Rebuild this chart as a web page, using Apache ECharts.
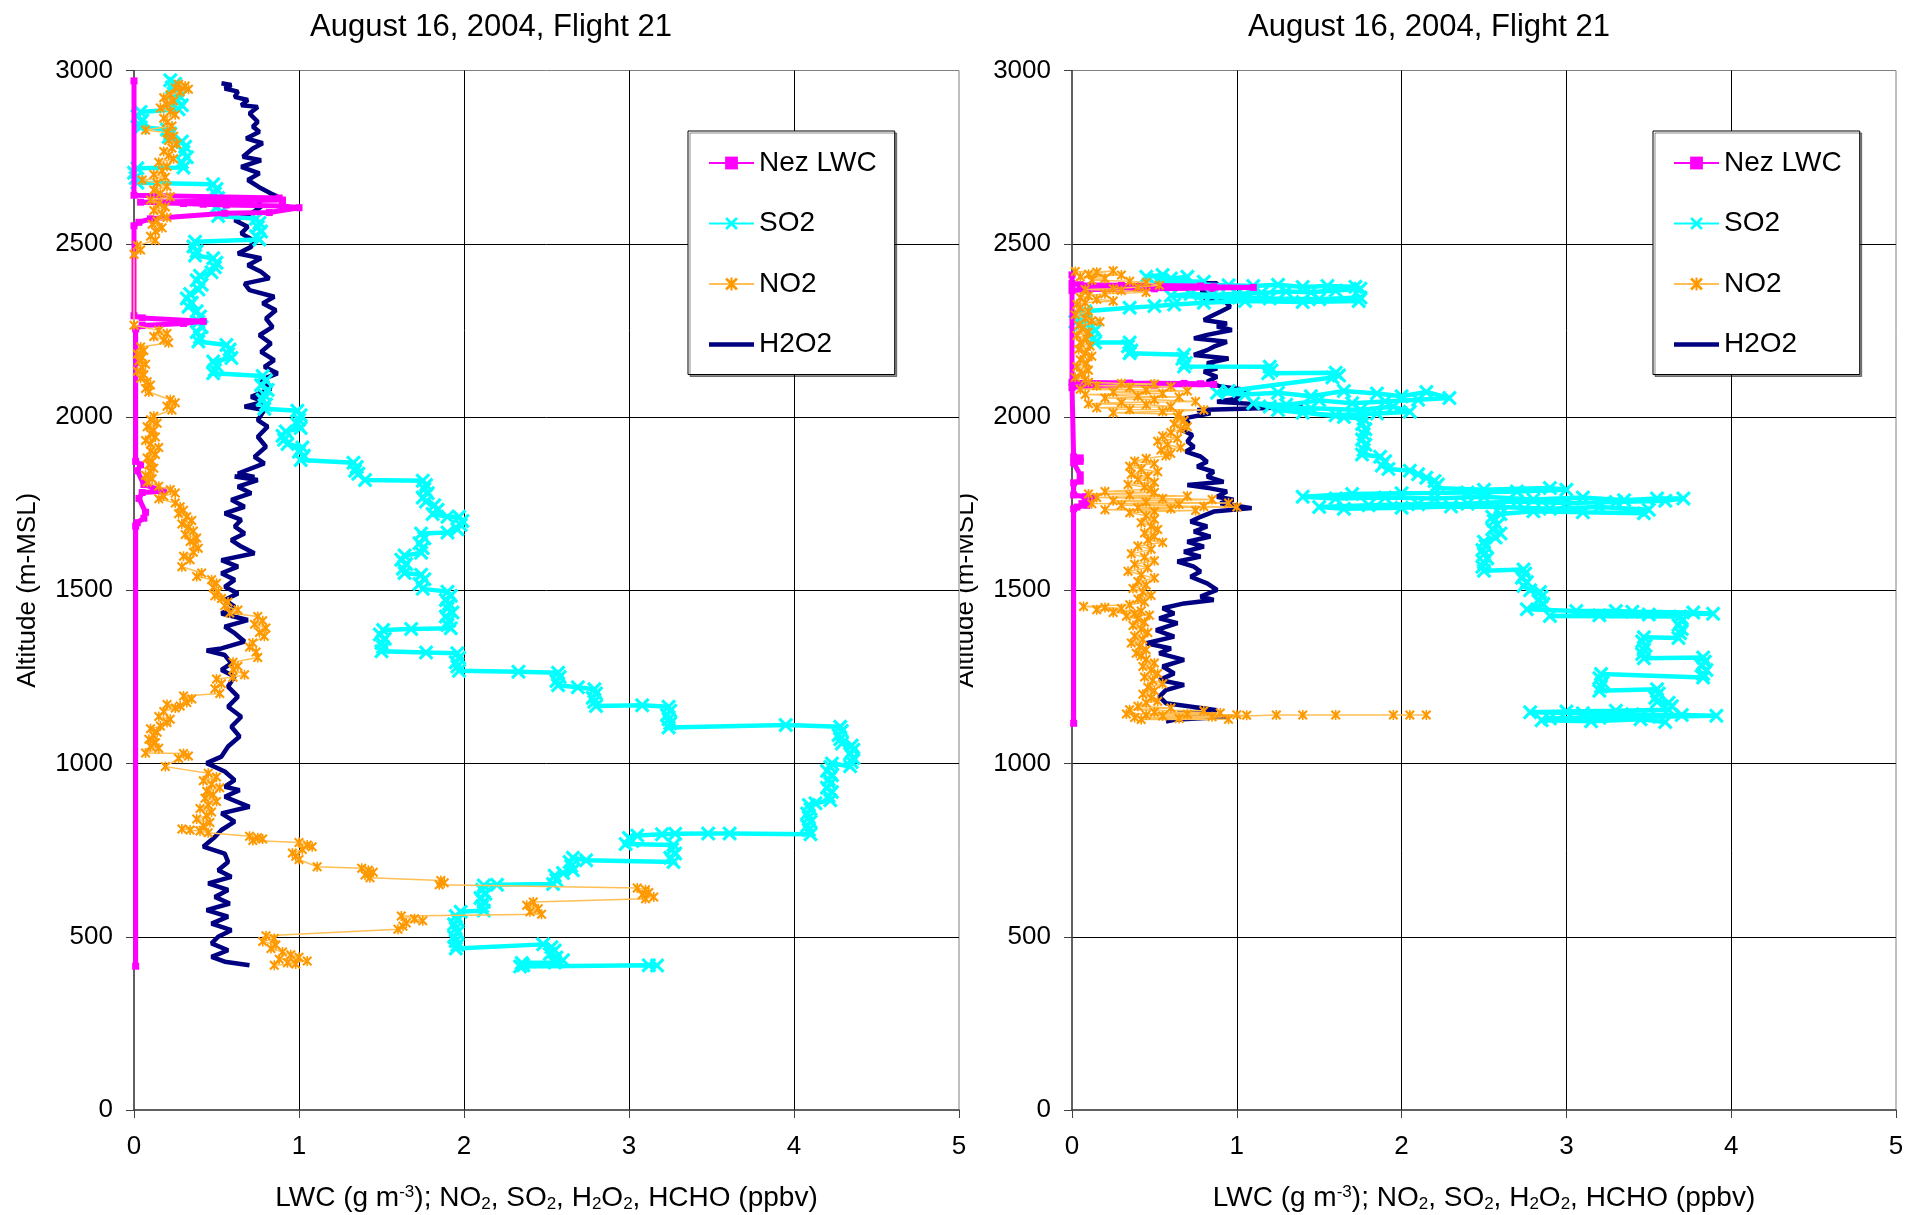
<!DOCTYPE html>
<html>
<head>
<meta charset="utf-8">
<title>August 16, 2004, Flight 21</title>
<script src="https://cdn.jsdelivr.net/npm/echarts@6/dist/echarts.min.js"></script>
<style>
  html, body { margin: 0; padding: 0; background: #ffffff; }
  #profileA { position: absolute; left: 0; top: 0; width: 1907px; height: 1215px; }
  #profileB { position: absolute; left: 960px; top: 0; width: 947px; height: 1215px; overflow: hidden; }
</style>
</head>
<body>
<div id="profileA"></div>
<div id="profileB"></div>
<script>
// ---- axis ticks ----
const X_TICKS = [0, 1, 2, 3, 4, 5];
const Y_TICKS = [0, 500, 1000, 1500, 2000, 2500, 3000];
const SERIES_NAMES = ['Nez LWC', 'SO2', 'NO2', 'H2O2'];

// ---- first profile: [value, altitude m-MSL] ----
const leftNezLwc = [[0,2970],[0,2640],[0.88,2632],[0.9,2626],[0.04,2620],[0.3,2616],[0.42,2614],[0.56,2612],[0.9,2609],[1.0,2604],[0.82,2590],[0.55,2588],[0.1,2572],[0.03,2562],[0,2552],[0,2292],[0.05,2286],[0.42,2276],[0.3,2270],[0.05,2264],[0.01,2254],[0.01,1872],[0.04,1862],[0.02,1845],[0.06,1805],[0.18,1786],[0.05,1782],[0.03,1765],[0.07,1725],[0.06,1708],[0.02,1695],[0.01,1685],[0.01,415]];

const leftSo2 = [[0.22,2972],[0.25,2962],[0.23,2952],[0.26,2942],[0.24,2934],[0.28,2924],[0.26,2912],[0.29,2900],[0.27,2888],[0.04,2880],[0.02,2868],[0.05,2856],[0.03,2845],[0.04,2836],[0.2,2830],[0.22,2818],[0.21,2808],[0.29,2795],[0.31,2780],[0.3,2765],[0.32,2750],[0.29,2735],[0.3,2720],[0.02,2718],[0.0,2705],[0.01,2690],[0.02,2676],[0.48,2672],[0.5,2658],[0.49,2645],[0.51,2632],[0.52,2618],[0.5,2605],[0.53,2592],[0.51,2580],[0.74,2572],[0.76,2560],[0.75,2548],[0.77,2535],[0.74,2522],[0.76,2512],[0.37,2506],[0.36,2492],[0.38,2478],[0.37,2466],[0.48,2458],[0.5,2445],[0.49,2432],[0.47,2418],[0.4,2408],[0.38,2395],[0.41,2382],[0.39,2368],[0.34,2355],[0.32,2342],[0.35,2330],[0.33,2318],[0.38,2305],[0.4,2290],[0.39,2275],[0.41,2260],[0.38,2245],[0.4,2230],[0.39,2218],[0.56,2208],[0.58,2195],[0.57,2182],[0.59,2170],[0.48,2160],[0.5,2148],[0.49,2136],[0.48,2126],[0.78,2118],[0.8,2105],[0.77,2092],[0.81,2078],[0.79,2064],[0.78,2050],[0.8,2036],[0.79,2024],[0.99,2018],[1.01,2005],[1.0,1992],[0.99,1980],[1.01,1968],[0.92,1958],[0.9,1946],[0.91,1934],[0.93,1922],[1.02,1912],[1.0,1900],[1.03,1888],[1.01,1876],[1.33,1868],[1.35,1856],[1.34,1845],[1.36,1836],[1.4,1818],[1.75,1816],[1.77,1804],[1.76,1792],[1.78,1780],[1.75,1768],[1.77,1756],[1.82,1745],[1.84,1732],[1.81,1720],[1.9,1712],[1.97,1712],[1.99,1700],[1.98,1688],[1.96,1676],[1.9,1667],[1.74,1664],[1.76,1650],[1.73,1636],[1.75,1622],[1.74,1608],[1.64,1600],[1.62,1588],[1.65,1576],[1.63,1562],[1.64,1550],[1.74,1545],[1.76,1532],[1.73,1518],[1.75,1504],[1.9,1496],[1.92,1484],[1.89,1472],[1.91,1460],[1.9,1448],[1.93,1436],[1.89,1424],[1.91,1412],[1.9,1400],[1.92,1390],[1.68,1388],[1.51,1385],[1.49,1372],[1.52,1360],[1.5,1348],[1.51,1336],[1.5,1324],[1.77,1320],[1.96,1318],[1.97,1305],[1.95,1292],[1.96,1280],[1.97,1268],[2.33,1265],[2.57,1262],[2.58,1250],[2.56,1238],[2.57,1226],[2.69,1220],[2.79,1214],[2.8,1202],[2.78,1190],[2.79,1178],[2.8,1166],[3.08,1168],[3.24,1164],[3.25,1152],[3.23,1140],[3.24,1128],[3.25,1116],[3.24,1104],[3.95,1111],[4.28,1106],[4.29,1094],[4.27,1082],[4.28,1070],[4.29,1058],[4.35,1052],[4.36,1040],[4.34,1028],[4.36,1016],[4.35,1004],[4.34,992],[4.23,1000],[4.22,990],[4.2,978],[4.23,966],[4.21,954],[4.22,942],[4.2,930],[4.23,918],[4.21,906],[4.22,894],[4.13,885],[4.09,880],[4.1,868],[4.08,856],[4.09,844],[4.1,832],[4.08,820],[4.09,808],[4.1,796],[3.61,798],[3.48,798],[3.28,797],[3.2,796],[3.05,792],[3.0,785],[3.02,776],[2.98,768],[3.27,765],[3.26,752],[3.28,740],[3.25,728],[3.27,716],[2.74,721],[2.66,728],[2.64,716],[2.65,704],[2.66,692],[2.6,684],[2.55,676],[2.56,664],[2.54,652],[2.2,650],[2.12,648],[2.11,636],[2.13,624],[2.1,612],[2.12,600],[2.11,588],[2.12,576],[1.98,572],[1.95,560],[1.96,548],[1.94,536],[1.95,524],[1.96,512],[1.94,500],[1.95,488],[1.96,476],[1.95,466],[2.48,478],[2.53,470],[2.55,460],[2.52,450],[2.56,440],[2.6,432],[2.55,426],[2.35,424],[2.36,418],[2.34,414],[3.12,418],[3.17,417]];

const leftNo2 = [[0.27,2960],[0.31,2955],[0.25,2950],[0.33,2946],[0.28,2938],[0.22,2930],[0.18,2921],[0.24,2912],[0.2,2902],[0.16,2892],[0.22,2882],[0.25,2872],[0.18,2862],[0.2,2851],[0.23,2840],[0.07,2828],[0.2,2820],[0.24,2810],[0.21,2798],[0.26,2788],[0.23,2776],[0.18,2766],[0.21,2755],[0.24,2745],[0.15,2735],[0.2,2723],[0.17,2711],[0.12,2700],[0.19,2692],[0.05,2684],[0.14,2675],[0.2,2665],[0.12,2655],[0.16,2645],[0.22,2636],[0.1,2626],[0.15,2616],[0.19,2606],[0.12,2596],[0.17,2586],[0.2,2576],[0.14,2566],[0.11,2556],[0.17,2546],[0.13,2536],[0.1,2522],[0.13,2510],[0.02,2495],[0.04,2482],[0.0,2470],[0.0,2265],[0.15,2250],[0.2,2241],[0.12,2232],[0.18,2222],[0.21,2214],[0.04,2202],[0.06,2192],[0.02,2182],[0.05,2172],[0.03,2162],[0.07,2152],[0.05,2142],[0.02,2132],[0.06,2122],[0.04,2112],[0.08,2102],[0.1,2092],[0.07,2082],[0.09,2072],[0.22,2050],[0.25,2041],[0.2,2031],[0.23,2020],[0.12,2002],[0.1,1992],[0.14,1982],[0.08,1972],[0.12,1962],[0.1,1952],[0.13,1942],[0.07,1932],[0.1,1922],[0.15,1912],[0.1,1902],[0.13,1892],[0.08,1882],[0.11,1872],[0.09,1862],[0.12,1852],[0.1,1842],[0.07,1832],[0.11,1822],[0.08,1812],[0.15,1800],[0.22,1790],[0.25,1781],[0.18,1772],[0.15,1764],[0.25,1752],[0.28,1741],[0.3,1731],[0.27,1721],[0.32,1712],[0.35,1701],[0.29,1691],[0.33,1681],[0.36,1671],[0.31,1661],[0.38,1651],[0.34,1641],[0.37,1631],[0.39,1621],[0.36,1610],[0.3,1598],[0.34,1588],[0.29,1568],[0.41,1550],[0.38,1540],[0.47,1530],[0.5,1520],[0.48,1508],[0.51,1496],[0.49,1484],[0.53,1476],[0.57,1466],[0.55,1455],[0.63,1443],[0.58,1434],[0.75,1424],[0.78,1412],[0.73,1402],[0.8,1391],[0.76,1378],[0.79,1367],[0.72,1348],[0.7,1336],[0.74,1322],[0.75,1306],[0.6,1292],[0.63,1281],[0.6,1271],[0.67,1256],[0.6,1249],[0.5,1244],[0.53,1230],[0.49,1216],[0.52,1202],[0.3,1195],[0.35,1186],[0.32,1176],[0.28,1166],[0.2,1170],[0.25,1160],[0.18,1150],[0.15,1136],[0.22,1128],[0.2,1118],[0.16,1108],[0.1,1100],[0.14,1090],[0.12,1080],[0.09,1070],[0.13,1060],[0.1,1050],[0.15,1044],[0.07,1030],[0.3,1029],[0.33,1022],[0.27,1015],[0.19,991],[0.45,972],[0.5,961],[0.42,950],[0.47,940],[0.52,930],[0.44,920],[0.48,910],[0.43,900],[0.5,890],[0.45,880],[0.4,870],[0.47,860],[0.44,850],[0.38,840],[0.46,830],[0.42,820],[0.29,811],[0.34,808],[0.4,805],[0.45,800],[0.7,790],[0.75,786],[0.78,782],[0.72,778],[1.0,772],[1.05,765],[1.08,760],[1.02,752],[0.96,742],[0.98,732],[1.0,723],[1.11,702],[1.38,698],[1.42,692],[1.45,686],[1.4,678],[1.43,670],[1.86,662],[1.88,656],[1.85,650],[3.05,641],[3.1,636],[3.12,628],[3.08,621],[3.15,615],[3.1,610],[2.42,600],[2.38,591],[2.45,581],[2.4,572],[2.47,565],[1.62,560],[1.7,552],[1.75,546],[1.65,540],[1.63,530],[1.6,522],[0.8,503],[0.85,495],[0.78,486],[0.86,476],[0.83,466],[0.9,456],[0.95,448],[1.0,441],[0.88,435],[1.05,430],[0.93,425],[0.98,421],[0.85,418]];

const leftH2o2 = [[0.53,2963],[0.59,2958],[0.55,2948],[0.63,2939],[0.61,2924],[0.69,2915],[0.65,2900],[0.75,2895],[0.7,2876],[0.75,2852],[0.72,2838],[0.76,2823],[0.68,2804],[0.78,2790],[0.72,2775],[0.66,2751],[0.77,2741],[0.65,2722],[0.76,2703],[0.69,2684],[0.77,2660],[0.83,2645],[0.87,2636],[0.75,2626],[0.77,2607],[0.71,2587],[0.61,2568],[0.69,2549],[0.65,2530],[0.72,2511],[0.71,2491],[0.63,2472],[0.77,2458],[0.69,2438],[0.77,2419],[0.82,2400],[0.67,2385],[0.7,2366],[0.85,2347],[0.78,2328],[0.86,2308],[0.8,2284],[0.84,2260],[0.76,2236],[0.83,2212],[0.77,2188],[0.85,2164],[0.79,2145],[0.87,2126],[0.77,2107],[0.83,2082],[0.71,2058],[0.79,2044],[0.67,2030],[0.79,2020],[0.75,1991],[0.81,1972],[0.75,1943],[0.8,1914],[0.73,1885],[0.79,1866],[0.63,1837],[0.73,1827],[0.61,1828],[0.75,1818],[0.63,1799],[0.71,1780],[0.59,1761],[0.67,1741],[0.55,1722],[0.65,1703],[0.61,1684],[0.67,1664],[0.59,1645],[0.65,1626],[0.73,1607],[0.53,1587],[0.63,1568],[0.53,1549],[0.61,1530],[0.55,1510],[0.63,1491],[0.55,1472],[0.61,1453],[0.53,1433],[0.69,1414],[0.55,1395],[0.61,1376],[0.67,1352],[0.53,1332],[0.44,1326],[0.55,1313],[0.59,1289],[0.53,1270],[0.61,1251],[0.57,1222],[0.63,1193],[0.57,1164],[0.65,1135],[0.59,1106],[0.64,1078],[0.57,1049],[0.53,1020],[0.44,1001],[0.55,977],[0.61,952],[0.55,933],[0.64,923],[0.55,904],[0.7,875],[0.53,856],[0.61,832],[0.53,808],[0.49,788],[0.42,760],[0.55,740],[0.57,716],[0.51,692],[0.59,673],[0.45,654],[0.57,635],[0.49,615],[0.58,596],[0.44,577],[0.57,558],[0.47,538],[0.59,519],[0.51,500],[0.47,481],[0.57,461],[0.47,442],[0.55,428],[0.7,418]];

// ---- second profile: [value, altitude m-MSL] ----
const rightNezLwc = [[0,2410],[0,2385],[0.05,2382],[0.3,2380],[0.78,2378],[0.86,2376],[1.1,2374],[0.85,2372],[0.5,2370],[0.1,2368],[0,2365],[0,2100],[0.35,2098],[0.68,2097],[0.78,2096],[0.86,2094],[0.5,2092],[0.1,2090],[0,2085],[0.01,1885],[0.05,1882],[0.05,1872],[0.01,1868],[0.05,1833],[0.05,1815],[0.01,1810],[0.01,1775],[0.08,1770],[0.12,1765],[0.1,1758],[0.06,1750],[0.09,1745],[0.03,1740],[0.01,1735],[0.01,1116]];

const rightSo2 = [[0.45,2405],[0.55,2410],[0.6,2400],[0.52,2395],[0.7,2405],[0.65,2392],[0.8,2390],[0.5,2385],[0.95,2380],[1.1,2378],[1.25,2382],[1.4,2375],[1.55,2378],[1.72,2376],[1.75,2370],[1.6,2365],[1.45,2360],[1.3,2362],[1.15,2358],[1.0,2356],[0.85,2352],[0.72,2355],[0.6,2350],[0.95,2345],[1.2,2342],[1.5,2340],[1.75,2345],[1.74,2335],[1.4,2332],[1.05,2335],[0.8,2330],[0.62,2325],[0.5,2320],[0.35,2315],[0.08,2305],[0.03,2295],[0.06,2285],[0.02,2275],[0.05,2268],[0.12,2262],[0.14,2250],[0.11,2238],[0.13,2226],[0.14,2215],[0.35,2215],[0.34,2204],[0.36,2192],[0.35,2184],[0.68,2180],[0.67,2168],[0.69,2156],[0.68,2146],[1.2,2145],[1.21,2134],[1.19,2126],[1.6,2128],[1.62,2120],[1.58,2114],[0.95,2075],[0.88,2070],[1.05,2065],[1.25,2070],[1.45,2060],[1.65,2075],[1.85,2068],[2.0,2060],[2.15,2072],[2.29,2055],[2.1,2050],[1.9,2045],[1.7,2040],[1.5,2048],[1.3,2035],[1.1,2040],[1.2,2030],[1.45,2025],[1.75,2020],[1.95,2030],[2.05,2015],[1.85,2010],[1.6,2005],[1.4,2012],[1.25,2020],[1.65,2000],[1.77,1995],[1.76,1980],[1.78,1965],[1.77,1950],[1.76,1935],[1.78,1920],[1.77,1905],[1.76,1892],[1.87,1885],[1.9,1872],[1.88,1860],[1.92,1850],[2.05,1845],[2.1,1835],[2.15,1825],[2.2,1815],[2.22,1805],[2.2,1795],[2.5,1790],[2.9,1795],[3.0,1790],[2.7,1785],[2.4,1782],[2.0,1780],[1.7,1778],[1.4,1770],[1.6,1765],[1.9,1768],[2.2,1765],[2.5,1770],[2.8,1762],[3.1,1768],[3.35,1760],[3.55,1765],[3.71,1765],[3.6,1758],[3.3,1755],[3.0,1752],[2.7,1756],[2.4,1750],[2.1,1748],[1.8,1745],[1.5,1740],[1.65,1735],[2.0,1738],[2.3,1742],[2.6,1740],[2.9,1735],[3.2,1740],[3.5,1732],[3.47,1722],[3.1,1725],[2.8,1728],[2.6,1720],[2.55,1712],[2.56,1700],[2.58,1688],[2.55,1676],[2.6,1664],[2.57,1652],[2.5,1640],[2.51,1628],[2.49,1616],[2.5,1604],[2.52,1592],[2.5,1580],[2.49,1568],[2.5,1556],[2.74,1560],[2.75,1548],[2.73,1536],[2.76,1524],[2.74,1512],[2.78,1500],[2.84,1495],[2.85,1482],[2.83,1470],[2.86,1460],[2.76,1445],[3.06,1440],[3.3,1440],[3.4,1438],[3.77,1436],[3.89,1432],[3.5,1430],[3.2,1428],[2.9,1426],[3.69,1424],[3.7,1412],[3.68,1400],[3.7,1388],[3.69,1376],[3.68,1362],[3.47,1364],[3.46,1352],[3.48,1340],[3.47,1328],[3.46,1316],[3.47,1304],[3.83,1306],[3.84,1294],[3.82,1282],[3.85,1270],[3.83,1258],[3.83,1248],[3.21,1258],[3.2,1246],[3.22,1234],[3.21,1222],[3.2,1210],[3.55,1214],[3.56,1202],[3.54,1190],[3.55,1178],[3.62,1175],[3.64,1165],[3.62,1155],[3.3,1152],[3.0,1150],[2.78,1148],[3.1,1145],[3.4,1142],[3.7,1140],[3.91,1138],[3.5,1135],[3.2,1132],[2.9,1130],[2.85,1125],[3.15,1122],[3.45,1128],[3.6,1120]];

const rightNo2 = [[0.02,2420],[0.15,2418],[0.25,2422],[0.1,2412],[0.3,2410],[0.05,2405],[0.2,2400],[0.12,2395],[0.35,2392],[0.45,2388],[0.53,2380],[0.4,2375],[0.25,2370],[0.08,2368],[0.3,2365],[0.45,2360],[0.2,2356],[0.1,2350],[0.05,2345],[0.15,2340],[0.25,2335],[0.08,2330],[0.03,2325],[0.05,2315],[0.1,2305],[0.02,2295],[0.08,2285],[0.12,2278],[0.17,2275],[0.04,2265],[0.06,2255],[0.1,2245],[0.03,2235],[0.09,2225],[0.05,2215],[0.11,2205],[0.04,2195],[0.08,2185],[0.12,2175],[0.05,2165],[0.09,2155],[0.03,2145],[0.1,2135],[0.06,2125],[0.02,2115],[0.08,2108],[0.1,2100],[0.3,2097],[0.5,2095],[0.15,2090],[0.6,2088],[0.35,2085],[0.05,2080],[0.45,2078],[0.7,2075],[0.25,2072],[0.55,2068],[0.08,2065],[0.4,2060],[0.65,2058],[0.2,2055],[0.5,2050],[0.75,2045],[0.3,2042],[0.1,2038],[0.45,2035],[0.6,2030],[0.15,2027],[0.35,2022],[0.8,2020],[0.55,2016],[0.25,2012],[0.65,2008],[0.64,2000],[0.68,1990],[0.62,1980],[0.7,1972],[0.66,1965],[0.6,1955],[0.55,1945],[0.64,1938],[0.52,1930],[0.58,1920],[0.66,1912],[0.54,1905],[0.6,1895],[0.57,1888],[0.45,1880],[0.38,1872],[0.5,1865],[0.35,1858],[0.42,1850],[0.52,1842],[0.36,1835],[0.46,1828],[0.4,1820],[0.5,1812],[0.34,1805],[0.44,1798],[0.48,1792],[0.2,1785],[0.5,1782],[0.1,1778],[0.35,1775],[0.7,1772],[0.15,1768],[0.55,1765],[0.85,1762],[0.25,1758],[0.45,1755],[0.95,1752],[0.12,1750],[0.65,1748],[0.3,1745],[0.8,1742],[1.0,1740],[0.4,1738],[0.6,1735],[0.2,1732],[0.75,1730],[0.5,1727],[0.35,1724],[0.45,1715],[0.5,1705],[0.42,1695],[0.48,1685],[0.52,1675],[0.44,1665],[0.5,1655],[0.46,1645],[0.55,1638],[0.4,1628],[0.48,1618],[0.36,1605],[0.44,1595],[0.5,1585],[0.38,1575],[0.46,1565],[0.34,1555],[0.42,1545],[0.5,1535],[0.4,1525],[0.45,1515],[0.37,1505],[0.43,1495],[0.48,1485],[0.4,1475],[0.44,1466],[0.35,1458],[0.07,1453],[0.2,1450],[0.3,1447],[0.15,1444],[0.42,1440],[0.25,1436],[0.38,1432],[0.47,1428],[0.33,1425],[0.4,1418],[0.44,1408],[0.37,1398],[0.42,1388],[0.46,1378],[0.38,1368],[0.43,1358],[0.36,1348],[0.41,1338],[0.45,1328],[0.39,1318],[0.42,1310],[0.45,1300],[0.5,1290],[0.43,1280],[0.48,1270],[0.52,1260],[0.44,1250],[0.49,1240],[0.55,1230],[0.46,1220],[0.5,1210],[0.43,1200],[0.48,1190],[0.52,1180],[0.45,1175],[0.4,1165],[0.6,1160],[0.35,1155],[0.8,1152],[0.5,1148],[0.9,1146],[0.33,1143],[0.7,1142],[1.0,1141],[0.45,1140],[1.06,1139],[0.55,1137],[0.85,1135],[0.38,1133],[0.65,1130],[0.95,1128],[0.42,1127],[1.24,1140],[1.4,1140],[1.6,1140],[1.95,1140],[2.05,1140],[2.15,1140]];

const rightH2o2 = [[0.77,2386],[0.88,2386],[0.88,2371],[0.78,2362],[0.85,2352],[0.8,2343],[0.92,2338],[0.96,2318],[0.9,2304],[0.84,2290],[0.8,2280],[0.94,2270],[0.88,2261],[0.97,2251],[0.82,2237],[0.74,2227],[0.94,2217],[0.86,2203],[0.82,2193],[0.74,2179],[0.95,2169],[0.82,2155],[0.88,2140],[0.8,2131],[0.88,2116],[0.82,2102],[0.9,2088],[1.06,2078],[0.98,2068],[1.02,2054],[0.88,2044],[1.18,2035],[1.4,2030],[1.14,2025],[0.76,2020],[0.84,2011],[0.68,1996],[0.71,1982],[0.67,1962],[0.73,1948],[0.7,1929],[0.74,1914],[0.69,1900],[0.78,1886],[0.82,1871],[0.76,1857],[0.86,1842],[0.82,1828],[0.92,1813],[0.7,1804],[0.84,1794],[0.94,1785],[0.88,1770],[0.98,1761],[0.9,1751],[1.09,1737],[0.86,1727],[0.78,1712],[0.72,1698],[0.82,1684],[0.74,1669],[0.84,1655],[0.7,1640],[0.8,1626],[0.68,1611],[0.78,1597],[0.64,1583],[0.74,1568],[0.78,1554],[0.72,1539],[0.82,1520],[0.88,1501],[0.78,1482],[0.86,1472],[0.68,1462],[0.55,1448],[0.62,1433],[0.53,1419],[0.64,1405],[0.51,1385],[0.62,1366],[0.45,1347],[0.6,1332],[0.53,1318],[0.68,1299],[0.55,1280],[0.62,1260],[0.53,1241],[0.68,1227],[0.57,1212],[0.53,1193],[0.57,1174],[0.88,1154],[0.64,1145],[0.94,1135],[0.62,1126],[0.57,1121]];

// ---- styling ----
const FONT = '"Liberation Sans", Arial, sans-serif';
const X_MARK = 'path://M0,1.5L1.5,0L5,3.5L8.5,0L10,1.5L6.5,5L10,8.5L8.5,10L5,6.5L1.5,10L0,8.5L3.5,5Z';
const STAR_MARK = 'path://M0,1.5L1.5,0L5,3.5L8.5,0L10,1.5L6.5,5L10,8.5L8.5,10L5,6.5L1.5,10L0,8.5L3.5,5Z M4.2,0L5.8,0L5.8,10L4.2,10Z';
// plain bar used as the H2O2 legend key (a line with no marker)
const BAR_KEY = 'path://M0,0L45,0L45,4.5L0,4.5Z';

function profileSeries(nez, so2, no2, h2o2) {
  const common = { type: 'line', clip: false, smooth: false, emphasis: { disabled: true }, silent: true };
  return [
    Object.assign({}, common, {
      name: 'H2O2', data: h2o2, z: 2, symbol: 'none',
      lineStyle: { color: '#000080', width: 4.5 }, itemStyle: { color: '#000080' }
    }),
    Object.assign({}, common, {
      name: 'SO2', data: so2, z: 3, symbol: X_MARK, symbolSize: 15,
      lineStyle: { color: '#00FFFF', width: 4.5 }, itemStyle: { color: '#00FFFF' }
    }),
    Object.assign({}, common, {
      name: 'Nez LWC', data: nez, z: 4, symbol: 'rect', symbolSize: 7,
      lineStyle: { color: '#FF00FF', width: 5 }, itemStyle: { color: '#FF00FF' }
    }),
    Object.assign({}, common, {
      name: 'NO2', data: no2, z: 5, symbol: STAR_MARK, symbolSize: 10,
      lineStyle: { color: '#FFBF55', width: 1.5 }, itemStyle: { color: '#FF9900' }
    })
  ];
}

function profileOption(cfg) {
  const supSub = {
    sup: { fontSize: 17, color: '#000', fontFamily: FONT, padding: [0, 0, 12, 0] },
    sub: { fontSize: 17, color: '#000', fontFamily: FONT, padding: [12, 0, 0, 0] }
  };
  return {
    animation: false,
    backgroundColor: 'transparent',
    textStyle: { fontFamily: FONT, color: '#000' },
    title: {
      text: 'August 16, 2004, Flight 21',
      left: cfg.titleX, top: 7, textAlign: 'center',
      textStyle: { fontSize: 31, fontWeight: 'normal', color: '#000', fontFamily: FONT }
    },
    legend: {
      data: [
        { name: 'Nez LWC' },
        { name: 'SO2' },
        { name: 'NO2' },
        { name: 'H2O2', icon: BAR_KEY }
      ],
      orient: 'vertical',
      left: cfg.legendX, top: 131,
      padding: [18, 18, 16, 20],
      itemWidth: 45, itemHeight: 16, itemGap: 32.5,
      symbolKeepAspect: true,
      borderColor: '#000', borderWidth: 1,
      backgroundColor: '#fff',
      shadowColor: 'rgba(0,0,0,0.45)', shadowOffsetX: 2, shadowOffsetY: 2, shadowBlur: 0,
      selectedMode: false,
      textStyle: { fontSize: 28, color: '#000', fontFamily: FONT }
    },
    grid: {
      left: cfg.gridLeft, width: cfg.gridWidth, top: 70.5, height: 1039.5,
      show: true, borderColor: '#808080', borderWidth: 1,
      containLabel: false, outerBoundsMode: 'none'
    },
    xAxis: {
      type: 'value',
      min: X_TICKS[0], max: X_TICKS[X_TICKS.length - 1], interval: X_TICKS[1] - X_TICKS[0],
      axisLine: { show: true, onZero: false, lineStyle: { color: '#404040', width: 1.5 } },
      axisTick: { show: true, inside: false, length: 8, lineStyle: { color: '#404040' } },
      splitLine: { show: true, showMinLine: false, showMaxLine: false, lineStyle: { color: '#000', width: 1 } },
      axisLabel: { fontSize: 26, color: '#000', margin: 24, fontFamily: FONT, formatter: v => String(v) },
      name: 'LWC (g m{sup|-3}); NO{sub|2}, SO{sub|2}, H{sub|2}O{sub|2}, HCHO (ppbv)',
      nameLocation: 'middle', nameGap: 74,
      nameTextStyle: { fontSize: 28, color: '#000', fontFamily: FONT, rich: supSub }
    },
    yAxis: {
      type: 'value',
      min: Y_TICKS[0], max: Y_TICKS[Y_TICKS.length - 1], interval: Y_TICKS[1] - Y_TICKS[0],
      axisLine: { show: true, onZero: false, lineStyle: { color: '#404040', width: 1.5 } },
      axisTick: { show: true, inside: false, length: 8, lineStyle: { color: '#404040' } },
      splitLine: { show: true, showMinLine: false, showMaxLine: false, lineStyle: { color: '#000', width: 1 } },
      axisLabel: { fontSize: 26, color: '#000', margin: 21, fontFamily: FONT, formatter: v => String(v) },
      name: 'Altitude (m-MSL)',
      nameLocation: 'middle', nameGap: 93, nameRotate: 90,
      nameTextStyle: { fontSize: 26, color: '#000', fontFamily: FONT }
    },
    series: cfg.series
  };
}

const chartA = echarts.init(document.getElementById('profileA'), null, { renderer: 'canvas' });
chartA.setOption(profileOption({
  titleX: 486, legendX: 688, gridLeft: 134, gridWidth: 825,
  series: profileSeries(leftNezLwc, leftSo2, leftNo2, leftH2o2)
}));

const chartB = echarts.init(document.getElementById('profileB'), null, { renderer: 'canvas' });
chartB.setOption(profileOption({
  titleX: 464, legendX: 693, gridLeft: 112, gridWidth: 824,
  series: profileSeries(rightNezLwc, rightSo2, rightNo2, rightH2o2)
}));
</script>
</body>
</html>
